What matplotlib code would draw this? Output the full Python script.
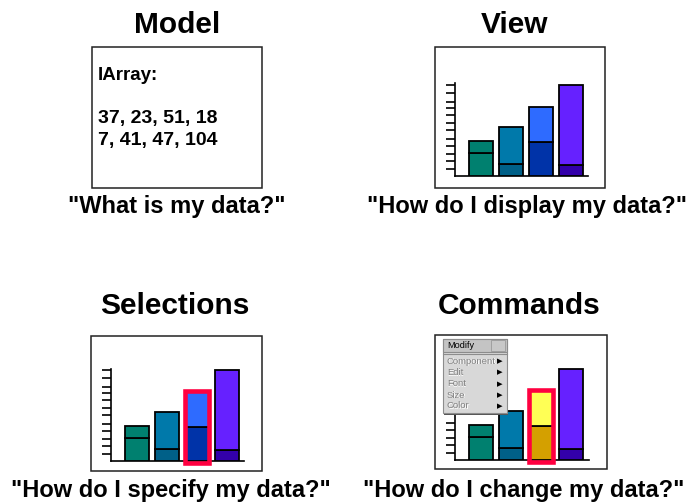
import matplotlib
matplotlib.use("Agg")
import matplotlib.pyplot as plt
from matplotlib.patches import Rectangle

# ---------------- data ----------------
panel_titles = ["Model", "View", "Selections", "Commands"]
panel_captions = ['"What is my data?"', '"How do I display my data?"',
                  '"How do I specify my data?"', '"How do I change my data?"']
model_label = "IArray:"
model_row1 = [37, 23, 51, 18]
model_row2 = [7, 41, 47, 104]

bar_categories = [0, 1, 2, 3]
bar_lower = [23, 12, 34, 11]      # bottom segment heights
bar_upper = [12, 37, 35, 80]      # top segment heights
axis_ticks = [7, 15, 22, 30, 37, 46, 53, 61, 68, 74, 83, 91]

colors_lower = ["#00806F", "#006088", "#0033A8", "#3300AA"]
colors_upper = ["#00806F", "#0079AA", "#2E6BFF", "#6621FF"]
cmd_lower = ["#00806F", "#006088", "#D4A000", "#3300AA"]
cmd_upper = ["#00806F", "#0079AA", "#FFFF55", "#6621FF"]
selected_index = 2

menu_title = "Modify"
menu_items = ["Component", "Edit", "Font", "Size", "Color"]

# ---------------- figure ----------------
W, H = 691, 504
fig = plt.figure(figsize=(W / 100, H / 100), dpi=100)
plt.rcParams['font.family'] = ['Liberation Sans', 'DejaVu Sans']

bg = fig.add_axes([0, 0, 1, 1])
bg.set_xlim(0, W)
bg.set_ylim(H, 0)
bg.axis('off')


def fig_rect(x0, y0, x1, y1):
    return [x0 / W, 1 - y1 / H, (x1 - x0) / W, (y1 - y0) / H]


# boxes
boxes = [(92, 47, 262, 188), (435, 47, 605, 188), (91, 336, 262, 471), (435, 335, 607, 469)]
for (x0, y0, x1, y1) in boxes:
    bg.add_patch(Rectangle((x0, y0), x1 - x0, y1 - y0, fill=False, ec="#222222", lw=1.1))

# titles and captions
title_pos = [(177, 25), (515, 25), (175, 306), (519, 306)]
for t, (x, y) in zip(panel_titles, title_pos):
    bg.text(x, y, t, ha='center', va='center', fontsize=21.5, fontweight='bold')
cap_pos = [(177, 207), (527, 207), (171, 490), (524, 490)]
for c, (x, y) in zip(panel_captions, cap_pos):
    bg.text(x, y, c, ha='center', va='center', fontsize=17, fontweight='bold')

# model text
bg.text(98, 76, model_label, ha='left', va='center', fontsize=13.5, fontweight='bold')
bg.text(98, 119, ", ".join(str(v) for v in model_row1), ha='left', va='center',
        fontsize=14, fontweight='bold')
bg.text(98, 140, ", ".join(str(v) for v in model_row2), ha='left', va='center',
        fontsize=14, fontweight='bold')


def mini_chart(rect, lower_cols, upper_cols, selected=None):
    x0, top, x1, base = rect
    ax = fig.add_axes(fig_rect(x0, top, x1, base))
    ax.patch.set_alpha(0)
    ax.set_xlim(-26 / 30, (x1 - x0 - 26) / 30)
    ax.set_ylim(0, base - top)
    for s in ['top', 'right']:
        ax.spines[s].set_visible(False)
    for s in ['left', 'bottom']:
        ax.spines[s].set_linewidth(1.2)
        ax.spines[s].set_color('black')
    ax.set_xticks([])
    ax.set_yticks(axis_ticks)
    ax.set_yticklabels([])
    ax.tick_params(axis='y', direction='out', length=6.5, width=1.2, color='black')
    ax.bar(bar_categories, bar_lower, width=0.83, color=lower_cols,
           edgecolor='black', lw=1.3, zorder=3)
    ax.bar(bar_categories, bar_upper, bottom=bar_lower, width=0.83, color=upper_cols,
           edgecolor='black', lw=1.3, zorder=3)
    if selected is not None:
        total = bar_lower[selected] + bar_upper[selected]
        ax.bar([bar_categories[selected]], [total + 3], bottom=-2, width=0.83,
               fill=False, edgecolor='#FF0040', lw=3.3, zorder=4, clip_on=False)
    return ax


mini_chart((455, 83, 588, 176), colors_lower, colors_upper)
mini_chart((111, 369, 244, 461), colors_lower, colors_upper, selected=selected_index)
mini_chart((455, 367, 589, 460), cmd_lower, cmd_upper, selected=selected_index)

# overlay for the pop-up menu
ov = fig.add_axes([0, 0, 1, 1])
ov.patch.set_alpha(0)
ov.set_xlim(0, W)
ov.set_ylim(H, 0)
ov.axis('off')
mx0, my0, mx1, my1 = 443, 339, 507, 413
ov.add_patch(Rectangle((mx0 + 1.5, my0 + 1.5), mx1 - mx0, my1 - my0, fc='#555555', ec='none'))
ov.add_patch(Rectangle((mx0, my0), mx1 - mx0, my1 - my0, fc='#D8D8D8', ec='#8C8C8C', lw=0.8))
ov.add_patch(Rectangle((mx0, my0), mx1 - mx0, 13, fc='#C4C4C4', ec='#8C8C8C', lw=0.8))
ov.add_patch(Rectangle((491, my0 + 1), 14, 11, fc='#C8C8C8', ec='#9A9A9A', lw=0.6))
ov.plot([mx0, mx1], [354, 354], color='#8C8C8C', lw=0.8)
ov.text(447, 346, menu_title, ha='left', va='center', fontsize=6.6, color='black')
item_y = [361, 372.5, 384, 395, 406]
for it, y in zip(menu_items, item_y):
    ov.text(447.6, y + 0.6, it, ha='left', va='center', fontsize=6.8, color='white')
    ov.text(447, y, it, ha='left', va='center', fontsize=6.8, color='#808080')
    ov.text(500, y, '\u25B6', ha='center', va='center', fontsize=5.2, color='black',
            family=['DejaVu Sans'])

fig.savefig("out.png", dpi=100)
